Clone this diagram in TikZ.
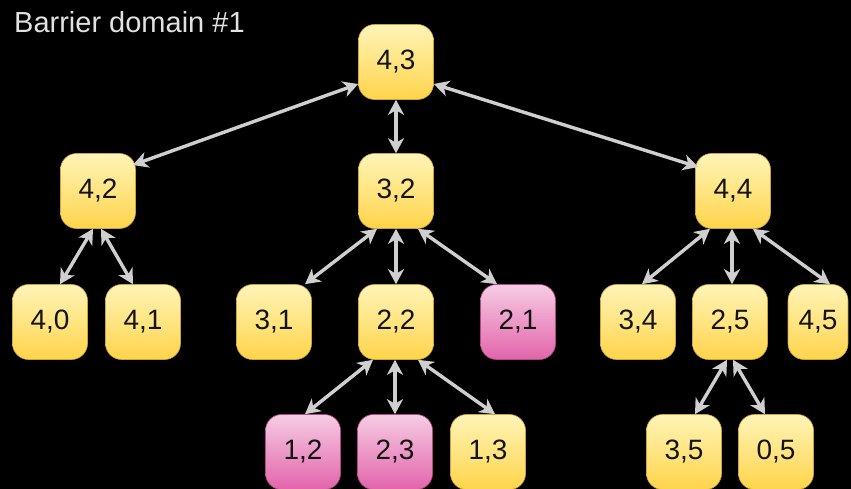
\documentclass[tikz,border=0pt]{standalone}
\usepackage{fontspec}
\setmainfont{Liberation Sans}
\usetikzlibrary{arrows.meta}
\definecolor{ytop}{HTML}{FFF4B8}
\definecolor{ybot}{HTML}{FFD44A}
\definecolor{yline}{HTML}{C9A53A}
\definecolor{ptop}{HTML}{F6CCE4}
\definecolor{pbot}{HTML}{E264AA}
\definecolor{pline}{HTML}{B04A84}
\definecolor{arr}{HTML}{CFCFCF}
\definecolor{ttl}{HTML}{E2E2E2}
\tikzset{
  cell/.style={rounded corners=16pt, minimum width=75pt, minimum height=75pt, inner sep=0pt,
    text=black!92, font=\fontsize{28}{32}\selectfont, draw, line width=0.6pt},
  ycell/.style={cell, top color=ytop, bottom color=ybot, draw=yline},
  pcell/.style={cell, top color=ptop, bottom color=pbot, draw=pline},
  link/.style={draw=arr, line width=3.4pt, {Stealth[length=15pt,width=16pt,inset=4.5pt]}-{Stealth[length=15pt,width=16pt,inset=4.5pt]}},
}
\begin{document}
\begin{tikzpicture}[x=1pt,y=-1pt]
\fill[black] (0,0) rectangle (851,489);
\useasboundingbox (0,0) rectangle (851,489);
\node[anchor=base west, text=ttl, font=\fontsize{29}{32}\selectfont, inner sep=0pt] (title) at (14,33) {Barrier domain \#1};
% row 0
\node[ycell] (n43) at (396,62) {4,3};
% row 1
\node[ycell] (n42) at (98,191) {4,2};
\node[ycell] (n32) at (396,191) {3,2};
\node[ycell] (n44) at (733,191) {4,4};
% row 2
\node[ycell] (n40) at (50,322) {4,0};
\node[ycell] (n41) at (143,322) {4,1};
\node[ycell] (n31) at (274,322) {3,1};
\node[ycell] (n22) at (396,322) {2,2};
\node[pcell] (n21) at (518,322) {2,1};
\node[ycell] (n34) at (638,322) {3,4};
\node[ycell] (n25) at (730,322) {2,5};
\node[ycell, minimum width=60pt] (n45) at (818,322) {4,5};
% row 3
\node[pcell] (n12) at (303,452) {1,2};
\node[pcell] (n23) at (395,452) {2,3};
\node[ycell] (n13) at (488,452) {1,3};
\node[ycell] (n35) at (684,452) {3,5};
\node[ycell] (n05) at (776,452) {0,5};
% links
\draw[link] ([yshift=-22pt]n43.west) -- ([xshift=-3pt,yshift=26pt]n42.east);
\draw[link] ([yshift=-22pt]n43.east) -- ([xshift=3pt,yshift=24pt]n44.west);
\draw[link] (n43.south) -- (n32.north);
\draw[link] ([xshift=-5pt]n42.south) -- ([xshift=10pt]n40.north);
\draw[link] ([xshift=3pt]n42.south) -- ([xshift=-10pt]n41.north);
\draw[link] ([xshift=-19pt]n32.south) -- ([xshift=31pt]n31.north);
\draw[link] (n32.south) -- (n22.north);
\draw[link] ([xshift=22pt]n32.south) -- ([xshift=-21pt]n21.north);
\draw[link] ([xshift=-23pt]n22.south) -- ([xshift=2pt]n12.north);
\draw[link] ([xshift=-1pt]n22.south) -- (n23.north);
\draw[link] ([xshift=22pt]n22.south) -- ([xshift=7pt]n13.north);
\draw[link] ([xshift=-23pt]n44.south) -- ([xshift=4pt]n34.north);
\draw[link] ([xshift=-1pt]n44.south) -- ([xshift=2pt]n25.north);
\draw[link] ([xshift=20pt]n44.south) -- ([xshift=12pt]n45.north);
\draw[link] ([xshift=-3pt]n25.south) -- ([xshift=11pt]n35.north);
\draw[link] ([xshift=3pt]n25.south) -- ([xshift=-11pt]n05.north);
\end{tikzpicture}
\end{document}
